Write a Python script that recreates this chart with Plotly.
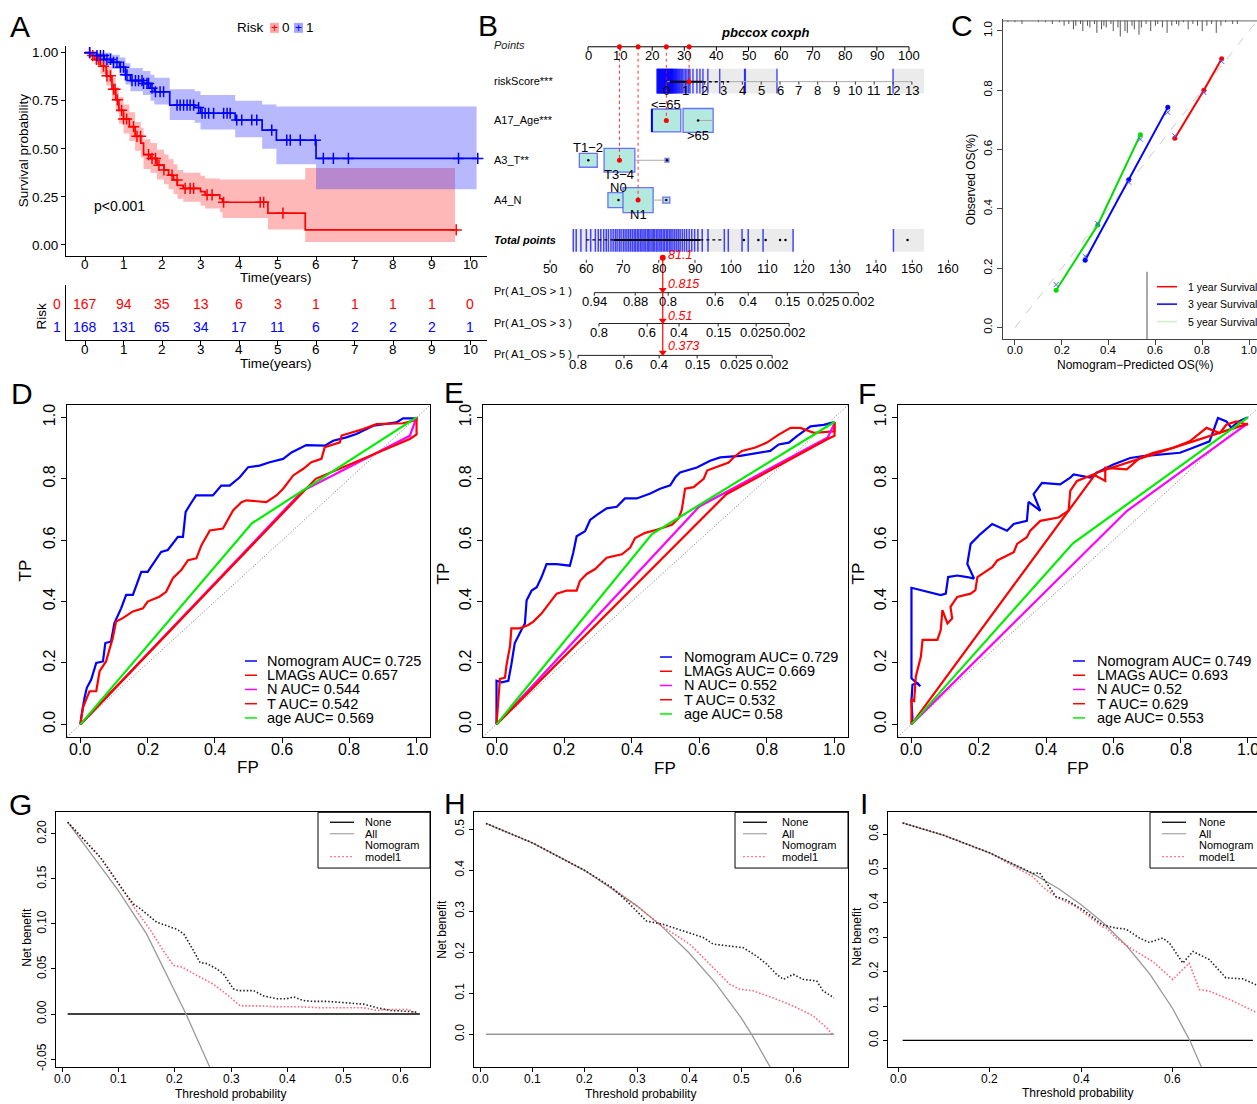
import numpy as np
import plotly.graph_objects as go

W, H = 1257, 1104
FONT = "Liberation Sans, Arial, Helvetica, sans-serif"

# ============================ DATA ============================
# ---- A: Kaplan-Meier by risk group ----
km_years = list(range(11))
red_t  = [0, 0.15, 0.25, 0.4, 0.55, 0.7, 0.8, 0.88, 1.0, 1.15, 1.3, 1.45, 1.52, 1.7, 1.87, 2.05, 2.17, 2.3, 2.4, 2.55, 3.0, 3.12, 3.5, 3.57, 4.75, 5.72, 9.61]
red_s  = [1.0, 0.985, 0.965, 0.93, 0.88, 0.81, 0.755, 0.70, 0.655, 0.615, 0.565, 0.53, 0.47, 0.45, 0.415, 0.39, 0.363, 0.338, 0.31, 0.294, 0.277, 0.26, 0.24, 0.222, 0.165, 0.078, 0.078]
red_lo = [1.0, 0.965, 0.94, 0.89, 0.83, 0.75, 0.69, 0.63, 0.58, 0.54, 0.49, 0.455, 0.395, 0.375, 0.34, 0.315, 0.29, 0.265, 0.24, 0.225, 0.205, 0.19, 0.17, 0.14, 0.08, 0.015, 0.015]
red_hi = [1.0, 1.0, 0.99, 0.97, 0.93, 0.87, 0.82, 0.77, 0.73, 0.69, 0.64, 0.61, 0.55, 0.53, 0.495, 0.47, 0.445, 0.42, 0.39, 0.375, 0.36, 0.345, 0.34, 0.34, 0.34, 0.40, 0.40]
red_cens = [0.12, 0.2, 0.3, 0.36, 0.48, 0.57, 0.66, 0.74, 0.78, 0.84, 0.95, 1.0, 1.08, 1.26, 1.35, 1.44, 1.65, 1.74, 1.83, 1.92, 2.05, 2.26, 2.39, 2.6, 2.73, 2.82, 3.17, 3.3, 3.6, 4.55, 4.64, 5.14, 9.64]
blue_t  = [0, 0.3, 0.5, 0.7, 0.9, 1.05, 1.18, 1.5, 1.7, 1.8, 2.2, 2.85, 3.0, 3.9, 4.6, 4.97, 6.0, 10.17]
blue_s  = [1.0, 0.985, 0.965, 0.95, 0.925, 0.885, 0.855, 0.84, 0.815, 0.797, 0.727, 0.715, 0.685, 0.65, 0.597, 0.545, 0.45, 0.45]
blue_lo = [1.0, 0.96, 0.935, 0.915, 0.885, 0.835, 0.8, 0.78, 0.75, 0.73, 0.65, 0.635, 0.6, 0.56, 0.5, 0.42, 0.29, 0.29]
blue_hi = [1.0, 1.0, 1.0, 0.99, 0.975, 0.945, 0.92, 0.905, 0.885, 0.87, 0.81, 0.8, 0.78, 0.75, 0.73, 0.72, 0.72, 0.72]
blue_cens = [0.12, 0.31, 0.4, 0.48, 0.57, 0.66, 0.74, 0.83, 0.92, 1.0, 1.05, 1.09, 1.22, 1.31, 1.39, 1.48, 1.52, 1.61, 1.65, 1.74, 1.83, 1.95, 2.04, 2.39, 2.47, 2.56, 2.65, 2.73, 2.82, 2.95, 3.04, 3.12, 3.21, 3.34, 3.6, 3.69, 3.77, 3.94, 4.07, 4.33, 4.46, 4.85, 5.24, 5.33, 5.59, 5.98, 6.19, 6.45, 6.84, 9.7, 10.2]
risk0_at_risk = [167, 94, 35, 13, 6, 3, 1, 1, 1, 1, 0]
risk1_at_risk = [168, 131, 65, 34, 17, 11, 6, 2, 2, 2, 1]
km_pvalue = "p<0.001"

# ---- B: nomogram ----
points_ticks = [0, 10, 20, 30, 40, 50, 60, 70, 80, 90, 100]
rs_ticks = list(range(14))
rs_scale_points = [24.6, 100.9]          # points at riskScore 0 and 13
rs_sample = [-0.53, -0.5, -0.47, -0.45, -0.42, -0.4, -0.37, -0.35, -0.32, -0.3, -0.27, -0.25, -0.22, -0.2, -0.17, -0.15,
             -0.12, -0.1, -0.07, -0.05, -0.02, 0.0, 0.03, 0.05, 0.08, 0.1, 0.13, 0.15, 0.18, 0.2, 0.23, 0.25, 0.28, 0.3,
             0.33, 0.36, 0.4, 0.43, 0.47, 0.5, 0.55, 0.6, 0.65, 0.7, 0.76, 0.82, 0.9, 0.98, 1.06, 1.15, 1.22, 1.38,
             1.59, 1.75, 1.91, 2.17, 2.8, 4.12, 4.16, 5.84, 12.0]
rs_dist_ranges = [(-0.53, 5.84), (12.0, 13.65)]
age_levels = ["<=65", ">65"]
age_points = [24.4, 34.3]
t_levels = ["T1−2", "T3−4", ""]
t_points = [0.1, 9.8, 24.6]
n_levels = ["N0", "N1", ""]
n_points = [9.5, 15.6, 24.4]
tp_ticks = [50, 60, 70, 80, 90, 100, 110, 120, 130, 140, 150, 160]
tp_scale_points = [-11.8, 112.3]        # points-axis position of total points 50 and 160
tp_sample = [56.4, 57.2, 58.5, 60.0, 61.2, 62.5, 63.3, 64.0, 64.8, 65.5, 66.1, 66.8, 67.4, 68.0, 68.5, 69.1, 69.6,
             70.2, 70.7, 71.2, 71.7, 72.2, 72.7, 73.2, 73.6, 74.1, 74.5, 75.0, 75.4, 75.9, 76.3, 76.8, 77.2, 77.6,
             78.1, 78.5, 78.9, 79.4, 79.8, 80.3, 80.7, 81.2, 81.6, 82.1, 82.5, 83.0, 83.4, 83.9, 84.4, 84.9, 85.4,
             85.9, 86.5, 87.1, 87.7, 88.4, 89.1, 89.9, 90.8, 92.0, 93.6, 98.1, 99.2, 103.0, 104.7, 108.8, 117.1, 144.8]
tp_dist_ranges = [(56.3, 117.1), (144.8, 153.3)]
tp_outliers = [103.5, 107.5, 109.5, 113.5, 115.0, 148.7]
patient_points = {"riskScore": 31.5, "age": 24.4, "T": 9.8, "N": 15.6}
patient_total = 81.1
pr_labels = ["Pr( A1_OS > 1 )", "Pr( A1_OS > 3 )", "Pr( A1_OS > 5 )"]
pr1_vals = ["0.94", "0.88", "0.8", "0.6", "0.4", "0.15", "0.025", "0.002"]
pr1_tp = [62.2, 73.5, 82.6, 95.6, 104.7, 115.5, 125.4, 135.1]
pr3_vals = ["0.8", "0.6", "0.4", "0.15", "0.025", "0.002"]
pr3_tp = [63.5, 76.8, 85.6, 96.4, 106.9, 116.0]
pr5_vals = ["0.8", "0.6", "0.4", "0.15", "0.025", "0.002"]
pr5_tp = [57.7, 70.4, 80.1, 90.6, 101.4, 111.3]
patient_pr = ["0.815", "0.51", "0.373"]

# ---- C: calibration ----
cal_1yr_pred = [0.683, 0.807, 0.883]; cal_1yr_obs = [0.638, 0.80, 0.906]; cal_1yr_bc = [0.646, 0.792, 0.897]
cal_3yr_pred = [0.30, 0.486, 0.653];  cal_3yr_obs = [0.227, 0.498, 0.742]; cal_3yr_bc = [0.24, 0.49, 0.725]
cal_5yr_pred = [0.176, 0.354, 0.536]; cal_5yr_obs = [0.126, 0.346, 0.65];  cal_5yr_bc = [0.145, 0.35, 0.635]
cal_rug_pred = [-0.03, 0.0, 0.03, 0.1, 0.13, 0.16, 0.19, 0.21, 0.23, 0.25, 0.26, 0.28, 0.29, 0.31, 0.32, 0.34, 0.35,
                0.37, 0.38, 0.39, 0.41, 0.42, 0.44, 0.45, 0.47, 0.48, 0.5, 0.51, 0.53, 0.54, 0.56, 0.58, 0.6, 0.61,
                0.63, 0.65, 0.67, 0.69, 0.7, 0.72, 0.74, 0.76, 0.78, 0.8, 0.82, 0.84, 0.86, 0.88, 0.9, 0.93, 0.95]
cal_rug_count = [1, 1, 2, 1, 1, 2, 1, 3, 2, 5, 3, 2, 6, 3, 4, 2, 7, 5, 3, 4, 2, 6, 4, 9, 6, 7, 3, 5, 8, 4, 2, 6, 3, 2,
                 4, 7, 3, 2, 3, 1, 5, 2, 3, 6, 3, 2, 7, 3, 1, 2, 2]
cal_legend = ["1 year Survival", "3 year Survival", "5 year Survival"]

# ---- D/E/F: ROC ----
roc_models = ["Nomogram", "LMAGs", "N", "T", "age"]
D_auc = [0.725, 0.657, 0.544, 0.542, 0.569]
E_auc = [0.729, 0.669, 0.552, 0.532, 0.58]
F_auc = [0.749, 0.693, 0.52, 0.629, 0.553]

D_nom_fp = [0, 0.002, 0.012, 0.019, 0.032, 0.047, 0.067, 0.074, 0.091, 0.101, 0.121, 0.136, 0.156, 0.166, 0.181, 0.2, 0.225, 0.24, 0.26, 0.275, 0.29, 0.305, 0.313, 0.325, 0.344, 0.394, 0.419, 0.444, 0.474, 0.499, 0.533, 0.563, 0.603, 0.628, 0.662, 0.672, 0.727, 0.752, 0.791, 0.821, 0.871, 0.94, 0.96, 1.0, 1.0]
D_nom_tp = [0, 0.02, 0.086, 0.119, 0.146, 0.2, 0.205, 0.265, 0.27, 0.33, 0.378, 0.422, 0.422, 0.454, 0.497, 0.497, 0.535, 0.562, 0.568, 0.59, 0.611, 0.611, 0.692, 0.714, 0.746, 0.746, 0.778, 0.778, 0.805, 0.838, 0.843, 0.854, 0.865, 0.886, 0.903, 0.91, 0.908, 0.924, 0.935, 0.946, 0.973, 0.984, 0.997, 0.997, 1.0]
D_lm_fp = [0, 0.007, 0.027, 0.047, 0.057, 0.076, 0.096, 0.106, 0.126, 0.156, 0.186, 0.2, 0.235, 0.255, 0.275, 0.3, 0.32, 0.345, 0.36, 0.385, 0.424, 0.454, 0.479, 0.494, 0.553, 0.583, 0.603, 0.633, 0.662, 0.687, 0.717, 0.727, 0.772, 0.777, 0.841, 0.881, 0.96, 1.0]
D_lm_tp = [0, 0.054, 0.108, 0.108, 0.173, 0.205, 0.281, 0.335, 0.346, 0.368, 0.378, 0.4, 0.416, 0.432, 0.476, 0.503, 0.535, 0.541, 0.584, 0.632, 0.638, 0.697, 0.724, 0.73, 0.724, 0.746, 0.768, 0.811, 0.832, 0.854, 0.865, 0.903, 0.919, 0.941, 0.962, 0.978, 0.981, 0.992]
D_N_fp = [0, 0.66, 0.98, 1.0];            D_N_tp = [0, 0.76, 0.94, 1.0]
D_T_fp = [0, 0.70, 0.98, 1.0, 1.0];       D_T_tp = [0, 0.80, 0.93, 0.945, 1.0]
D_age_fp = [0, 0.51, 1.0];                D_age_tp = [0, 0.655, 1.0]

E_nom_fp = [0, 0, 0.015, 0.035, 0.044, 0.054, 0.074, 0.084, 0.089, 0.104, 0.119, 0.133, 0.148, 0.178, 0.217, 0.227, 0.237, 0.262, 0.277, 0.296, 0.326, 0.356, 0.38, 0.415, 0.455, 0.484, 0.514, 0.529, 0.543, 0.593, 0.632, 0.662, 0.721, 0.751, 0.81, 0.835, 0.865, 0.889, 0.929, 0.968, 1.0]
E_nom_tp = [0, 0.142, 0.137, 0.142, 0.196, 0.265, 0.308, 0.329, 0.404, 0.436, 0.447, 0.479, 0.522, 0.522, 0.517, 0.559, 0.613, 0.629, 0.666, 0.682, 0.704, 0.709, 0.736, 0.736, 0.752, 0.768, 0.779, 0.805, 0.821, 0.837, 0.859, 0.87, 0.875, 0.88, 0.891, 0.912, 0.918, 0.939, 0.971, 0.976, 0.985]
E_lm_fp = [0, 0.005, 0.01, 0.025, 0.03, 0.04, 0.044, 0.069, 0.094, 0.109, 0.133, 0.148, 0.178, 0.208, 0.237, 0.247, 0.267, 0.292, 0.326, 0.371, 0.395, 0.41, 0.44, 0.474, 0.519, 0.539, 0.548, 0.558, 0.583, 0.613, 0.623, 0.647, 0.687, 0.702, 0.726, 0.766, 0.8, 0.835, 0.87, 0.899, 0.939, 1.0, 1.0]
E_lm_tp = [0, 0.083, 0.148, 0.152, 0.196, 0.255, 0.313, 0.313, 0.324, 0.335, 0.361, 0.383, 0.426, 0.436, 0.436, 0.468, 0.49, 0.506, 0.543, 0.554, 0.575, 0.607, 0.624, 0.634, 0.65, 0.672, 0.698, 0.768, 0.773, 0.8, 0.827, 0.837, 0.853, 0.87, 0.891, 0.902, 0.918, 0.944, 0.966, 0.966, 0.95, 0.955, 0.985]
E_N_fp = [0, 0.6, 0.98, 1.0];             E_N_tp = [0, 0.71, 0.935, 0.98]
E_T_fp = [0, 0.68, 0.98, 1.0, 1.0];       E_T_tp = [0, 0.75, 0.93, 0.94, 0.985]
E_age_fp = [0, 0.46, 1.0];                E_age_tp = [0, 0.62, 0.985]

F_nom_fp = [0, 0.003, 0, 0.003, 0.018, 0.026, 0, 0, 0.087, 0.102, 0.109, 0.136, 0.166, 0.186, 0.166, 0.176, 0.205, 0.24, 0.284, 0.304, 0.343, 0.348, 0.383, 0.363, 0.388, 0.442, 0.472, 0.482, 0.531, 0.551, 0.6, 0.65, 0.689, 0.738, 0.798, 0.837, 0.886, 0.911, 0.936, 0.951, 0.97, 0.995, 1.0]
F_nom_tp = [0, 0.022, 0.076, 0.129, 0.135, 0.124, 0.15, 0.445, 0.421, 0.426, 0.48, 0.485, 0.48, 0.475, 0.523, 0.588, 0.62, 0.653, 0.631, 0.653, 0.663, 0.725, 0.696, 0.75, 0.787, 0.782, 0.804, 0.814, 0.804, 0.82, 0.847, 0.868, 0.874, 0.879, 0.885, 0.901, 0.922, 0.998, 0.987, 0.966, 0.985, 0.998, 1.0]
F_lm_fp = [0, 0, 0.008, 0.013, 0.028, 0.033, 0.077, 0.087, 0.092, 0.107, 0.121, 0.116, 0.136, 0.176, 0.19, 0.196, 0.24, 0.255, 0.304, 0.314, 0.343, 0.353, 0.383, 0.437, 0.467, 0.472, 0.492, 0.541, 0.576, 0.576, 0.64, 0.679, 0.719, 0.778, 0.827, 0.877, 0.916, 0.936, 0.965, 1.0]
F_lm_tp = [0, 0.08, 0.076, 0.156, 0.221, 0.275, 0.275, 0.307, 0.372, 0.329, 0.345, 0.383, 0.415, 0.426, 0.437, 0.48, 0.512, 0.534, 0.561, 0.588, 0.61, 0.631, 0.663, 0.674, 0.696, 0.761, 0.793, 0.814, 0.793, 0.836, 0.831, 0.868, 0.885, 0.901, 0.922, 0.966, 0.949, 0.976, 0.987, 0.976]
F_N_fp = [0, 0.64, 0.98, 1.0];            F_N_tp = [0, 0.695, 0.965, 0.98]
F_T_fp = [0, 0.55, 1.0];                  F_T_tp = [0, 0.82, 0.98]
F_age_fp = [0, 0.48, 1.0];                F_age_tp = [0, 0.59, 1.0]

# ---- G/H/I: decision curves ----
dca_legend = ["None", "All", "Nomogram", "model1"]
G_all_x = [0.01, 0.05, 0.1, 0.15, 0.2, 0.22, 0.25, 0.27]
G_all_y = [0.213, 0.179, 0.137, 0.089, 0.025, 0.0, -0.042, -0.07]
G_nom_x = [0.01, 0.068, 0.109, 0.127, 0.139, 0.168, 0.204, 0.216, 0.23, 0.245, 0.257, 0.275, 0.287, 0.304, 0.313, 0.34, 0.358, 0.381, 0.399, 0.411, 0.428, 0.446, 0.47, 0.488, 0.517, 0.535, 0.559, 0.582, 0.612, 0.63]
G_nom_y = [0.213, 0.174, 0.137, 0.122, 0.117, 0.102, 0.094, 0.089, 0.074, 0.057, 0.056, 0.05, 0.044, 0.028, 0.026, 0.026, 0.02, 0.017, 0.017, 0.019, 0.015, 0.014, 0.014, 0.013, 0.012, 0.011, 0.007, 0.004, 0.003, 0.002]
G_m1_x = [0.01, 0.068, 0.109, 0.127, 0.157, 0.18, 0.198, 0.213, 0.239, 0.269, 0.298, 0.316, 0.352, 0.381, 0.423, 0.458, 0.505, 0.535, 0.559, 0.579, 0.615, 0.625]
G_m1_y = [0.213, 0.174, 0.137, 0.119, 0.093, 0.07, 0.054, 0.052, 0.043, 0.033, 0.019, 0.009, 0.009, 0.008, 0.008, 0.007, 0.007, 0.007, 0.004, 0.005, 0.005, 0.002]
G_none_x = [0.01, 0.635]

H_all_x = [0.01, 0.1, 0.2, 0.3, 0.35, 0.4, 0.45, 0.5, 0.52, 0.56]
H_all_y = [0.514, 0.466, 0.399, 0.313, 0.26, 0.198, 0.126, 0.04, 0.0, -0.09]
H_nom_x = [0.01, 0.1, 0.2, 0.25, 0.28, 0.299, 0.318, 0.35, 0.389, 0.427, 0.446, 0.478, 0.504, 0.529, 0.549, 0.568, 0.581, 0.6, 0.619, 0.645, 0.657, 0.678]
H_nom_y = [0.514, 0.466, 0.399, 0.359, 0.325, 0.301, 0.276, 0.268, 0.252, 0.236, 0.22, 0.215, 0.211, 0.191, 0.171, 0.146, 0.134, 0.146, 0.134, 0.13, 0.106, 0.089]
H_m1_x = [0.01, 0.1, 0.2, 0.25, 0.3, 0.35, 0.401, 0.446, 0.478, 0.497, 0.523, 0.561, 0.6, 0.638, 0.664, 0.678]
H_m1_y = [0.514, 0.466, 0.399, 0.359, 0.312, 0.262, 0.22, 0.163, 0.122, 0.11, 0.106, 0.089, 0.069, 0.045, 0.016, -0.004]
H_none_x = [0.01, 0.678]

I_all_x = [0.01, 0.1, 0.2, 0.3, 0.35, 0.4, 0.45, 0.5, 0.55, 0.6, 0.637, 0.67]
I_all_y = [0.633, 0.597, 0.546, 0.481, 0.442, 0.395, 0.34, 0.274, 0.193, 0.092, 0.0, -0.1]
I_nom_x = [0.01, 0.1, 0.2, 0.295, 0.309, 0.331, 0.345, 0.367, 0.404, 0.447, 0.476, 0.498, 0.527, 0.549, 0.578, 0.593, 0.622, 0.644, 0.68, 0.716, 0.753, 0.782]
I_nom_y = [0.633, 0.597, 0.546, 0.486, 0.488, 0.447, 0.418, 0.409, 0.38, 0.336, 0.327, 0.324, 0.298, 0.285, 0.298, 0.283, 0.225, 0.259, 0.235, 0.182, 0.179, 0.162]
I_m1_x = [0.01, 0.1, 0.2, 0.295, 0.316, 0.345, 0.389, 0.447, 0.455, 0.476, 0.513, 0.556, 0.6, 0.615, 0.636, 0.658, 0.68, 0.724, 0.782]
I_m1_y = [0.633, 0.597, 0.546, 0.476, 0.447, 0.418, 0.389, 0.33, 0.327, 0.298, 0.264, 0.23, 0.177, 0.196, 0.225, 0.148, 0.143, 0.119, 0.082]
I_none_x = [0.01, 0.775]

# ============================ HELPERS ============================
fig = go.Figure()
ann, shapes, axes = [], [], {}


def xa(i):
    return 'x' if i == 1 else f'x{i}'


def ya(i):
    return 'y' if i == 1 else f'y{i}'


def set_axes(i, xpx, ypx, xr, yr, xkw=None, ykw=None):
    base = dict(showgrid=False, zeroline=False, showline=False, ticks='', showticklabels=False, fixedrange=True)
    xd = dict(base, domain=[xpx[0] / W, xpx[1] / W], range=xr, anchor=ya(i))
    yd = dict(base, domain=[1 - ypx[1] / H, 1 - ypx[0] / H], range=yr, anchor=xa(i))
    if xkw:
        xd.update(xkw)
    if ykw:
        yd.update(ykw)
    axes['xaxis' if i == 1 else f'xaxis{i}'] = xd
    axes['yaxis' if i == 1 else f'yaxis{i}'] = yd


def tk(vals, labels, size, angle=0, mirror=False, ticklen=5, lc='black', show=True):
    return dict(showline=True, linecolor=lc, linewidth=1, mirror=mirror, ticks='outside', ticklen=ticklen,
                tickcolor=lc, tickwidth=1, tickvals=vals, ticktext=labels, showticklabels=show,
                tickfont=dict(family=FONT, size=size, color='black'), tickangle=angle)


def add(i, x, y, color='black', width=1, dash='solid', shape='linear', mode='lines', **kw):
    fig.add_trace(go.Scatter(x=x, y=y, xaxis=xa(i), yaxis=ya(i), mode=mode, showlegend=False,
                             hoverinfo='skip', line=dict(color=color, width=width, dash=dash, shape=shape), **kw))


def text(x, y, s, size, color='black', xanchor='center', yanchor='middle', angle=0, xref='paper', yref='paper'):
    if xref == 'paper':
        x = x / W
    if yref == 'paper':
        y = 1 - y / H
    ann.append(dict(x=x, y=y, xref=xref, yref=yref, text=s, showarrow=False, xanchor=xanchor, yanchor=yanchor,
                    textangle=angle, font=dict(family=FONT, size=size, color=color)))


def xlabels(i, vals, labels, ypx, size):
    for v, s in zip(vals, labels):
        text(v, ypx, s, size, xref=xa(i))


def pline(x0, y0, x1, y1, color='black', width=1, dash='solid'):
    shapes.append(dict(type='line', xref='paper', yref='paper', x0=x0 / W, y0=1 - y0 / H, x1=x1 / W, y1=1 - y1 / H,
                       line=dict(color=color, width=width, dash=dash)))


def prect(x0, y0, x1, y1, fill='rgba(0,0,0,0)', color='black', width=1):
    shapes.append(dict(type='rect', xref='paper', yref='paper', x0=x0 / W, y0=1 - y1 / H, x1=x1 / W, y1=1 - y0 / H,
                       fillcolor=fill, line=dict(color=color, width=width)))


def vsegs(xs, y0, y1):
    X, Y = [], []
    for v in xs:
        X += [v, v, None]
        Y += [y0, y1, None]
    return X, Y


def step_at(t, s, c):
    idx = np.searchsorted(np.array(t), np.array(c), side='right') - 1
    return list(np.array(s)[idx])


# ============================ PANEL A ============================
set_axes(1, (66, 487), (45, 256), [-0.494, 10.44], [-0.057, 1.036],
         tk(km_years, [str(v) for v in km_years], 13.5, ticklen=4, show=False),
         tk([0, 0.25, 0.5, 0.75, 1.0], ["0.00", "0.25", "0.50", "0.75", "1.00"], 13.5, ticklen=4))
xlabels(1, km_years, [str(v) for v in km_years], 265, 13.5)
RED, BLUE = '#FF0000', '#0000FF'
add(1, red_t, red_lo, width=0, shape='hv', color='rgba(0,0,0,0)')
add(1, red_t, red_hi, width=0, shape='hv', color='rgba(0,0,0,0)', fill='tonexty', fillcolor='rgba(255,40,40,0.33)')
add(1, blue_t, blue_lo, width=0, shape='hv', color='rgba(0,0,0,0)')
add(1, blue_t, blue_hi, width=0, shape='hv', color='rgba(0,0,0,0)', fill='tonexty', fillcolor='rgba(40,40,255,0.33)')
add(1, red_t, red_s, color=RED, width=1.7, shape='hv')
add(1, blue_t, blue_s, color=BLUE, width=1.7, shape='hv')
add(1, red_cens, step_at(red_t, red_s, red_cens), mode='markers',
    marker=dict(symbol='cross-thin', size=8, line=dict(width=1.5, color=RED)))
add(1, blue_cens, step_at(blue_t, blue_s, blue_cens), mode='markers',
    marker=dict(symbol='cross-thin', size=8, line=dict(width=1.5, color=BLUE)))
text(0.18, 0.2, km_pvalue, 14, xanchor='left', xref='x', yref='y')
text(23, 150, "Survival probability", 13.5, angle=-90)
text(276, 278, "Time(years)", 13.5)
# legend
text(250, 27, "Risk", 13.5)
prect(270, 22, 279, 32, fill='rgba(255,60,60,0.45)', color='rgba(0,0,0,0)')
text(274.5, 27, "+", 12, color=RED)
text(286, 27, "0", 13.5)
prect(294, 22, 303, 32, fill='rgba(60,60,255,0.45)', color='rgba(0,0,0,0)')
text(298.5, 27, "+", 12, color=BLUE)
text(310, 27, "1", 13.5)

# risk table
set_axes(2, (66, 487), (285, 341), [-0.494, 10.44], [1.61, -0.83],
         tk(km_years, [str(v) for v in km_years], 13.5, ticklen=4, show=False),
         dict(showline=True, linecolor='black', linewidth=1))
xlabels(2, km_years, [str(v) for v in km_years], 350, 13.5)
for k, yr in enumerate(km_years):
    text(yr, 0, str(risk0_at_risk[k]), 14, color=RED, xref='x2', yref='y2')
    text(yr, 1, str(risk1_at_risk[k]), 14, color=BLUE, xref='x2', yref='y2')
text(57, 304, "0", 14, color=RED)
text(57, 327, "1", 14, color=BLUE)
text(42, 317, "Risk", 13.5, angle=-90)
text(276, 364, "Time(years)", 13.5)

# ============================ PANEL B ============================
set_axes(3, (480, 960), (0, 380), [(480 - 588) / 3.21, (960 - 588) / 3.21], [380, 0])
B = 3


def rs2p(r):
    return rs_scale_points[0] + (rs_scale_points[1] - rs_scale_points[0]) * r / 13.0


def tp2p(t):
    return tp_scale_points[0] + (tp_scale_points[1] - tp_scale_points[0]) * (t - 50) / 110.0


def bshape(kind, x0, y0, x1, y1, fill='rgba(0,0,0,0)', color='black', width=1, layer='below'):
    shapes.append(dict(type=kind, xref='x3', yref='y3', x0=x0, y0=y0, x1=x1, y1=y1, fillcolor=fill, layer=layer,
                       line=dict(color=color, width=width)))


def btext(x, y, s, size, color='black', xanchor='center'):
    text(x, y, s, size, color=color, xanchor=xanchor, xref='x3', yref='y3')


ROW = dict(points=46, rs=81, age=120, T=160, N=200, total=240)
TEAL = '#b4e9df'
BOXLINE = 'rgba(70,70,255,0.75)'
RUG = 'rgba(0,0,255,0.72)'

# points axis
add(B, [points_ticks[0], points_ticks[-1]], [ROW['points']] * 2, width=1)
X, Y = vsegs(points_ticks, ROW['points'], ROW['points'] + 4)
add(B, X, Y, width=1)
for v in points_ticks:
    btext(v, 55, str(v), 13)
text(765, 32, "<b><i>pbccox coxph</i></b>", 13)

# row labels
lab_x = 492
text(lab_x, 44, "<i>Points</i>", 11, color='#222', xanchor='left')
text(lab_x, 80, "riskScore***", 11, xanchor='left')
text(lab_x, 120, "A17_Age***", 11, xanchor='left')
text(lab_x, 160, "A3_T**", 11, xanchor='left')
text(lab_x, 200, "A4_N", 11, xanchor='left')
text(lab_x, 240, "<b><i>Total points</i></b>", 11, xanchor='left')
for lbl, yy in zip(pr_labels, [291, 323, 355]):
    text(lab_x, yy, lbl, 11, xanchor='left')

# riskScore row
for a, b in rs_dist_ranges:
    bshape('rect', rs2p(a), 68, rs2p(b), 93, fill='#ebebeb', color='rgba(0,0,0,0)')
X, Y = vsegs([rs2p(v) for v in rs_sample], 68, 93)
add(B, X, Y, color=RUG, width=1.4)
add(B, [rs2p(0), rs2p(13)], [ROW['rs']] * 2, color='#aaaaaa', width=1)
add(B, [rs2p(0.15), rs2p(1.9)], [ROW['rs']] * 2, color='black', width=2)
add(B, [rs2p(1.9), rs2p(3.3)], [ROW['rs']] * 2, color='black', width=1.5, dash='dot')
X, Y = vsegs([rs2p(v) for v in rs_ticks], ROW['rs'], ROW['rs'] + 3)
add(B, X, Y, color='#333', width=1)
for v in rs_ticks:
    btext(rs2p(v), 90, str(v), 13)


def cat_row(pts, levels, yc, hw, hh, lab_dy):
    add(B, [pts[1] + hw[1], pts[-1]], [yc, yc], color='#aaaaaa', width=1)
    for k, p in enumerate(pts):
        bshape('rect', p - hw[k], yc - hh[k], p + hw[k], yc + hh[k], fill=TEAL, color=BOXLINE, width=1.3)
    add(B, pts, [yc] * len(pts), mode='markers', marker=dict(size=2.5, color='black'))
    for k, lv in enumerate(levels):
        if lv:
            btext(pts[k], yc + lab_dy[k], lv, 13)


cat_row(age_points, age_levels, ROW['age'], [4.5, 4.7], [11.5, 12], [-16, 15])
add(B, [age_points[0] - 4.5] * 2, [ROW['age'] - 11.5, ROW['age'] + 11.5], color=BLUE, width=2)
cat_row(t_points, t_levels, ROW['T'], [2.8, 4.8, 0.6], [7, 12, 1.8], [-13, 14, 0])
cat_row(n_points, n_levels, ROW['N'], [3.3, 4.7, 1.1], [7.5, 12.5, 3], [-13, 14, 0])

# total points row
for a, b in tp_dist_ranges:
    bshape('rect', tp2p(a), 229, tp2p(b), 252, fill='#ebebeb', color='rgba(0,0,0,0)')
X, Y = vsegs([tp2p(v) for v in tp_sample], 229, 252)
add(B, X, Y, color=RUG, width=1.5)
add(B, [tp2p(60), tp2p(97.5)], [ROW['total']] * 2, color='black', width=1.3, dash='dot')
add(B, [tp2p(67.5), tp2p(91.5)], [ROW['total']] * 2, color='black', width=2)
add(B, [tp2p(v) for v in tp_outliers], [ROW['total']] * len(tp_outliers), mode='markers',
    marker=dict(size=2.5, color='black'))
X, Y = vsegs([tp2p(v) for v in tp_ticks], 260, 263)
add(B, X, Y, color='#333', width=1)
for v in tp_ticks:
    btext(tp2p(v), 269, str(v), 13)

# probability scales
for vals, tps, yy in [(pr1_vals, pr1_tp, 293), (pr3_vals, pr3_tp, 324), (pr5_vals, pr5_tp, 356)]:
    xs = [tp2p(v) for v in tps]
    add(B, [xs[0], xs[-1]], [yy, yy], color='#222', width=1)
    X, Y = vsegs(xs, yy, yy + 3)
    add(B, X, Y, color='#222', width=1)
    for v, x in zip(vals, xs):
        btext(x, yy + 9, v, 13)

# patient example (red)
for key, yy in [("riskScore", ROW['rs']), ("age", ROW['age']), ("T", ROW['T']), ("N", ROW['N'])]:
    p = patient_points[key]
    add(B, [p, p], [ROW['points'], yy], color='rgba(255,0,0,0.8)', width=1, dash='dot')
    add(B, [p, p], [ROW['points'], yy], mode='markers', marker=dict(size=5, color=RED))
xt = tp2p(patient_total)
add(B, [xt, xt], [259, 355], color=RED, width=1.2)
add(B, [xt], [258], mode='markers', marker=dict(size=6, color=RED))
add(B, [xt, xt, xt], [290, 321, 353], mode='markers', marker=dict(size=7, color=RED, symbol='triangle-down'))
text(666, 255, f"<i>{patient_total}</i>", 12.5, color=RED, xanchor='left')
for s, yy in zip(patient_pr, [284, 316, 347]):
    text(666, yy, f"<i>{s}</i>", 12.5, color=RED, xanchor='left')

# ============================ PANEL C ============================
cal_ticks = [0, 0.2, 0.4, 0.6, 0.8, 1.0]
cal_lbls = ["0.0", "0.2", "0.4", "0.6", "0.8", "1.0"]
set_axes(4, (1003, 1257), (18, 340), [-0.051, 1.034], [-0.04, 1.04],
         tk(cal_ticks, cal_lbls, 11.5, ticklen=5, lc='#444', show=False),
         tk(cal_ticks, cal_lbls, 11.5, angle=-90, ticklen=5, lc='#444'))
xlabels(4, cal_ticks, cal_lbls, 351, 11.5)
add(4, [0, 1.04], [0, 1.04], color='#cccccc', width=1, dash='dash')
pline(1003, 20, 1257, 20, color='#666', width=1)
X, _ = vsegs(cal_rug_pred, 0, 0)
Y = []
for c in cal_rug_count:
    Y += [1.035, 1.035 - 0.006 * c, None]
add(4, X, Y, color='#555555', width=1)
for px_, ob, bc, col in [(cal_5yr_pred, cal_5yr_obs, cal_5yr_bc, '#00dd00'),
                         (cal_3yr_pred, cal_3yr_obs, cal_3yr_bc, BLUE),
                         (cal_1yr_pred, cal_1yr_obs, cal_1yr_bc, RED)]:
    add(4, px_, ob, color=col, width=2, mode='lines+markers', marker=dict(size=5, color=col))
    add(4, px_, bc, mode='markers', marker=dict(symbol='x-thin', size=5, line=dict(width=1, color='#5555ff')))
pline(1147, 272, 1147, 340, color='#555', width=1)
for k, (lbl, col) in enumerate(zip(cal_legend, [RED, BLUE, '#cfeecf'])):
    yy = 287 + 17.5 * k
    pline(1157, yy, 1177, yy, color=col, width=1.5)
    text(1186, yy, lbl, 10.5, xanchor='left')
text(971, 180, "Observed OS(%)", 12, angle=-90)
text(1135, 366, "Nomogram−Predicted OS(%)", 12)

# ============================ PANELS D/E/F ============================
roc_ticks = [0, 0.2, 0.4, 0.6, 0.8, 1.0]
roc_lbls = ["0.0", "0.2", "0.4", "0.6", "0.8", "1.0"]
ROC_COLS = [BLUE, RED, '#FF00FF', RED, '#00EE00']
roc_sets = [
    (5, (67, 430), [-0.04, 1.04], True, D_auc,
     [(D_nom_fp, D_nom_tp), (D_lm_fp, D_lm_tp), (D_N_fp, D_N_tp), (D_T_fp, D_T_tp), (D_age_fp, D_age_tp)],
     (245, 265, 663), (25, 572), (248, 770)),
    (6, (483, 848), [-0.04, 1.04], True, E_auc,
     [(E_nom_fp, E_nom_tp), (E_lm_fp, E_lm_tp), (E_N_fp, E_N_tp), (E_T_fp, E_T_tp), (E_age_fp, E_age_tp)],
     (660, 682, 659), (443, 575), (665, 771)),
    (7, (898, 1257), [-0.04, 1.027], False, F_auc,
     [(F_nom_fp, F_nom_tp), (F_lm_fp, F_lm_tp), (F_N_fp, F_N_tp), (F_T_fp, F_T_tp), (F_age_fp, F_age_tp)],
     (1073, 1095, 663), (858, 575), (1078, 771)),
]
for i, xpx, xr, full, aucs, curves, leg, tpos, fpos in roc_sets:
    set_axes(i, xpx, (406, 739), xr, [-0.04, 1.04],
             tk(roc_ticks, roc_lbls, 16, mirror=True, ticklen=5, show=False),
             tk(roc_ticks, roc_lbls, 16, angle=-90, mirror=full, ticklen=5))
    xlabels(i, roc_ticks, roc_lbls, 752, 16)
    add(i, [-0.04, 1.04], [-0.04, 1.04], color='#777777', width=1, dash='1px,2px')
    for (fp, tp), col in zip(curves, ROC_COLS):
        add(i, fp, tp, color=col, width=2.2)
    lx, tx, ly = leg
    for k, (m, a) in enumerate(zip(roc_models, aucs)):
        yy = ly + 14.3 * k
        pline(lx, yy, lx + 12, yy, color=ROC_COLS[k], width=1.5)
        text(tx, yy, f"{m} AUC= {a}", 14.5, xanchor='left')
    text(tpos[0], tpos[1], "TP", 17, angle=-90)
    text(fpos[0], fpos[1], "FP", 17)

# ============================ PANELS G/H/I ============================
dca_sets = [
    (8, (56, 430), [-0.0107, 0.653], [-0.059, 0.224],
     [0, 0.1, 0.2, 0.3, 0.4, 0.5, 0.6], ["0.0", "0.1", "0.2", "0.3", "0.4", "0.5", "0.6"],
     [-0.05, 0, 0.05, 0.1, 0.15, 0.2], ["-0.05", "0.00", "0.05", "0.10", "0.15", "0.20"],
     (G_all_x, G_all_y), (G_nom_x, G_nom_y), (G_m1_x, G_m1_y), G_none_x, 'black', True,
     (318, 430, 330, 363), (27, 940), (230, 1098), 1083),
    (9, (474, 848), [-0.013, 0.705], [-0.080, 0.541],
     [0, 0.1, 0.2, 0.3, 0.4, 0.5, 0.6], ["0.0", "0.1", "0.2", "0.3", "0.4", "0.5", "0.6"],
     [0, 0.1, 0.2, 0.3, 0.4, 0.5], ["0.0", "0.1", "0.2", "0.3", "0.4", "0.5"],
     (H_all_x, H_all_y), (H_nom_x, H_nom_y), (H_m1_x, H_m1_y), H_none_x, '#999999', True,
     (735, 848, 743, 780), (442, 932), (640, 1098), 1083),
    (10, (888, 1257), [-0.022, 0.784], [-0.078, 0.664],
     [0, 0.2, 0.4, 0.6], ["0.0", "0.2", "0.4", "0.6"],
     [0, 0.1, 0.2, 0.3, 0.4, 0.5, 0.6], ["0.0", "0.1", "0.2", "0.3", "0.4", "0.5", "0.6"],
     (I_all_x, I_all_y), (I_nom_x, I_nom_y), (I_m1_x, I_m1_y), I_none_x, 'black', False,
     (1150, 1262, 1162, 1197), (857, 940), (1077, 1097), 1083),
]
for (i, xpx, xr, yr, xt_, xl_, yt_, yl_, allc, nomc, m1c, nonex, nonecol, full,
     leg, nbpos, thpos, xly) in dca_sets:
    set_axes(i, xpx, (815, 1071), xr, yr,
             tk(xt_, xl_, 12, mirror=True, ticklen=4, show=False),
             tk(yt_, yl_, 12, angle=-90, mirror=full, ticklen=4))
    xlabels(i, xt_, xl_, xly, 12)
    add(i, nonex, [0, 0], color=nonecol, width=1.4)
    add(i, allc[0], allc[1], color='#999999', width=1.3)
    add(i, m1c[0], m1c[1], color='rgba(255,70,90,0.85)', width=1.6, dash='1.5px,2px')
    add(i, nomc[0], nomc[1], color='#222222', width=1.6, dash='1.5px,2px')
    bx0, bx1, lx, tx = leg
    prect(bx0, 815, bx1, 871, color='black', width=1)
    cols = ['black', '#aaaaaa', None, 'rgba(255,90,110,0.8)']
    dashes = ['solid', 'solid', 'solid', '2px,2px']
    for k, lbl in enumerate(dca_legend):
        yy = 825 + 11.5 * k
        if cols[k]:
            pline(lx, yy, lx + 24, yy, color=cols[k], width=1.3, dash=dashes[k])
        text(tx, yy, lbl, 11, xanchor='left')
    text(nbpos[0], nbpos[1], "Net benefit", 12, angle=-90)
    text(thpos[0], thpos[1], "Threshold probability", 12)

# ============================ PANEL LETTERS ============================
for s, x, y in [("A", 20, 26), ("B", 488, 25), ("C", 962, 25), ("D", 22, 394), ("E", 454, 393),
                ("F", 867, 394), ("G", 20, 807), ("H", 455, 806), ("I", 864, 806)]:
    text(x, y, s, 30)

fig.update_layout(width=W, height=H, margin=dict(l=0, r=0, t=0, b=0), paper_bgcolor='white',
                  plot_bgcolor='rgba(0,0,0,0)', showlegend=False, font=dict(family=FONT),
                  annotations=ann, shapes=shapes, **axes)
fig.write_html("out.html", config={"displayModeBar": False, "staticPlot": True},
               post_script="document.body.style.margin='0';")
